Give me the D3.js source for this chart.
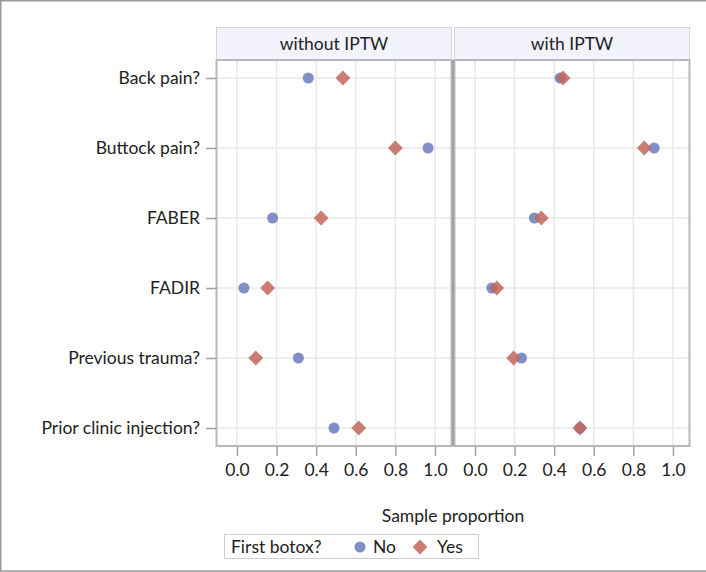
<!DOCTYPE html>
<html><head><meta charset="utf-8">
<script src="https://cdn.jsdelivr.net/npm/d3@7/dist/d3.min.js"></script>
<style>
body{margin:0;background:#fff;}
svg text{font-family:"Lato","Open Sans",sans-serif;fill:#222;}
</style></head>
<body><svg id="c" width="706" height="572"></svg>
<script>
const categories = ["Back pain?","Buttock pain?","FABER","FADIR","Previous trauma?","Prior clinic injection?"];
const panels = ["without IPTW","with IPTW"];
const groups = ["No","Yes"];
const noWithout  = [0.36, 0.965, 0.18, 0.035, 0.31, 0.49];
const yesWithout = [0.535, 0.80, 0.425, 0.155, 0.095, 0.615];
const noWith     = [0.43, 0.905, 0.30, 0.085, 0.235, 0.53];
const yesWith    = [0.445, 0.855, 0.335, 0.11, 0.195, 0.53];
const xTicks = [0,0.2,0.4,0.6,0.8,1.0];
const xTitle = "Sample proportion";
const legendTitle = "First botox?";

const series = [
  {panel:0, group:"No", vals:noWithout},
  {panel:0, group:"Yes", vals:yesWithout},
  {panel:1, group:"No", vals:noWith},
  {panel:1, group:"Yes", vals:yesWith}
];
const color = {No:"#6a7bbb", Yes:"#c2655a"};
const FS = 17.5;

const svg = d3.select("#c");
svg.append("path").attr("d","M706,0.75H0.75V571H706").attr("fill","none").attr("stroke","#9a9a9a").attr("stroke-width",1.5);

const plotTop = 60, plotBottom = 446, hdrTop = 27;
const panelX = [[216,452],[454,690]];
const y = d3.scalePoint().domain(categories).range([plotTop,plotBottom]).padding(0.257);

panelX.forEach((px,i)=>{
  const x = d3.scaleLinear().domain([-0.106,1.086]).range(px);
  const g = svg.append("g");
  g.append("rect").attr("x",px[0]+0.5).attr("y",hdrTop+0.5).attr("width",px[1]-px[0]-1).attr("height",plotTop-hdrTop-1)
    .attr("fill","#f3f3fc").attr("stroke","#d3d3da");
  g.append("text").attr("x",(px[0]+px[1])/2).attr("y",hdrTop+23).attr("text-anchor","middle")
    .attr("font-size",FS).text(panels[i]);
  g.selectAll(".vg").data(xTicks).join("line").attr("x1",d=>x(d)).attr("x2",d=>x(d))
    .attr("y1",plotTop).attr("y2",plotBottom).attr("stroke","#e8e8e8").attr("stroke-width",1.5);
  g.selectAll(".hg").data(categories).join("line").attr("x1",px[0]).attr("x2",px[1])
    .attr("y1",d=>y(d)).attr("y2",d=>y(d)).attr("stroke","#e8e8e8").attr("stroke-width",1.5);
  const ax = g.append("g").attr("transform",`translate(0,${plotBottom})`)
    .call(d3.axisBottom(x).tickValues(xTicks).tickFormat(d3.format(".1f")).tickSize(10).tickPadding(8).tickSizeOuter(0));
  ax.select(".domain").remove();
  ax.selectAll(".tick line").attr("stroke","#a0a0a0").attr("stroke-width",1.5);
  ax.selectAll(".tick text").attr("font-size",FS).attr("fill","#222").style("font-family","Lato, 'Open Sans', sans-serif");
  series.filter(s=>s.panel===i).forEach(s=>{
    const pts = s.vals.map((v,j)=>({v, c:categories[j]}));
    if (s.group==="No") {
      g.selectAll(null).data(pts).join("circle").attr("cx",d=>x(d.v)).attr("cy",d=>y(d.c)).attr("r",5.5)
        .attr("fill",color.No).attr("fill-opacity",0.85);
    } else {
      g.selectAll(null).data(pts).join("path")
        .attr("d",d3.symbol(d3.symbolSquare, 110))
        .attr("transform",d=>`translate(${x(d.v)},${y(d.c)}) rotate(45)`)
        .attr("fill",color.Yes).attr("fill-opacity",0.85);
    }
  });
  g.append("rect").attr("x",px[0]+0.5).attr("y",plotTop).attr("width",px[1]-px[0]-1).attr("height",plotBottom-plotTop)
    .attr("fill","none").attr("stroke","#b5b8bd").attr("stroke-width",2);
});
svg.append("line").attr("x1",453).attr("x2",453).attr("y1",plotTop).attr("y2",plotBottom).attr("stroke","#9da1a6").attr("stroke-width",2);

const ay = svg.append("g").attr("transform","translate(216,0)")
  .call(d3.axisLeft(y).tickSize(10).tickPadding(6).tickSizeOuter(0));
ay.select(".domain").remove();
ay.selectAll(".tick line").attr("stroke","#a0a0a0").attr("stroke-width",1.5);
ay.selectAll(".tick text").attr("font-size",FS).attr("fill","#222").style("font-family","Lato, 'Open Sans', sans-serif");

svg.append("text").attr("x",453).attr("y",522).attr("text-anchor","middle").attr("font-size",FS).text(xTitle);

const lg = svg.append("g");
lg.append("rect").attr("x",224.5).attr("y",534.5).attr("width",254).attr("height",24).attr("fill","#fff").attr("stroke","#cfcfcf");
lg.append("text").attr("x",231).attr("y",553).attr("font-size",FS).text(legendTitle);
lg.append("circle").attr("cx",360).attr("cy",547).attr("r",5.5).attr("fill",color.No).attr("fill-opacity",0.85);
lg.append("text").attr("x",373).attr("y",553).attr("font-size",FS).text(groups[0]);
lg.append("path").attr("d",d3.symbol(d3.symbolSquare,110)).attr("transform","translate(420,547) rotate(45)").attr("fill",color.Yes).attr("fill-opacity",0.85);
lg.append("text").attr("x",437).attr("y",553).attr("font-size",FS).text(groups[1]);
</script></body></html>
